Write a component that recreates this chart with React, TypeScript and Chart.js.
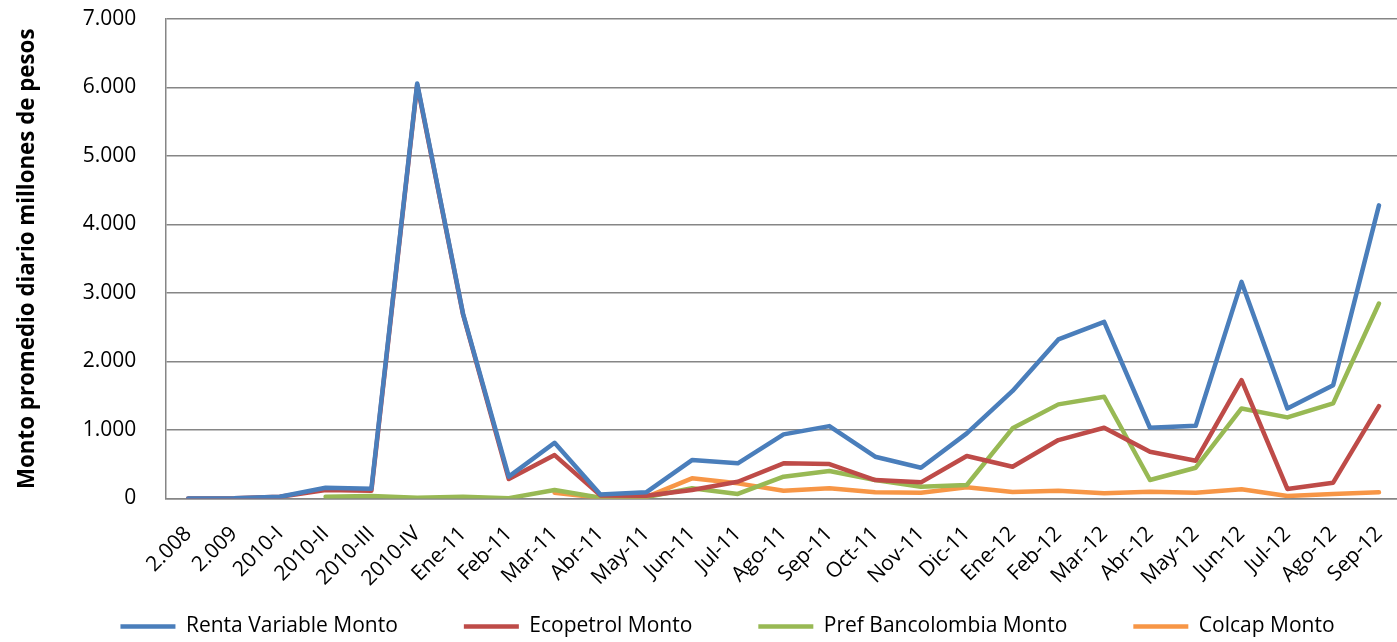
import React, { useEffect, useRef } from "react";
import { Chart, registerables } from "chart.js";

Chart.register(...registerables);

const categories = [
  "2.008", "2.009", "2010-I", "2010-II", "2010-III", "2010-IV",
  "Ene-11", "Feb-11", "Mar-11", "Abr-11", "May-11", "Jun-11", "Jul-11",
  "Ago-11", "Sep-11", "Oct-11", "Nov-11", "Dic-11", "Ene-12", "Feb-12",
  "Mar-12", "Abr-12", "May-12", "Jun-12", "Jul-12", "Ago-12", "Sep-12",
];

const rentaVariable = [
  0, 5, 25, 157, 143, 6060, 2700, 320, 814, 60, 90, 561, 513, 936, 1057,
  610, 449, 951, 1570, 2322, 2578, 1033, 1062, 3162, 1315, 1655, 4280,
];

const ecopetrol = [
  0, 5, 25, 124, 114, 6040, 2690, 284, 634, 45, 40, 124, 245, 513, 503,
  270, 236, 620, 464, 853, 1033, 683, 552, 1728, 139, 231, 1349,
];

const prefBancolombia = [
  null, null, null, 26, 36, 12, 25, 5, 124, 10, 20, 149, 66, 318, 401,
  270, 173, 197, 1024, 1374, 1485, 270, 449, 1315, 1184, 1388, 2847,
];

const colcap = [
  null, null, null, null, null, null, null, null, 85, 10, 20, 294, 221, 114, 149,
  90, 85, 163, 95, 114, 76, 99, 85, 134, 36, 66, 90,
];

const seriesNames = [
  "Renta Variable Monto",
  "Ecopetrol Monto",
  "Pref Bancolombia Monto",
  "Colcap Monto",
];
const seriesColors = ["#4A7EBB", "#BE4B48", "#98B954", "#F79646"];

const yTicks = [0, 1000, 2000, 3000, 4000, 5000, 6000, 7000];
const yTitle = "Monto promedio diario millones de pesos";

const FONT = "'Open Sans', 'DejaVu Sans', sans-serif";
const GRID = "#868686";

function fmt(v: number): string {
  if (v === 0) return "0";
  const s = String(Math.round(v));
  return s.replace(/\B(?=(\d{3})+(?!\d))/g, ".");
}

export default function App() {
  const ref = useRef<HTMLCanvasElement | null>(null);

  useEffect(() => {
    if (!ref.current) return;
    const values = [rentaVariable, ecopetrol, prefBancolombia, colcap];
    const chart = new Chart(ref.current, {
      type: "line",
      data: {
        labels: categories,
        datasets: values.map((d, i) => ({
          label: seriesNames[i],
          data: d,
          borderColor: seriesColors[i],
          backgroundColor: seriesColors[i],
          borderWidth: 4.5,
          pointRadius: 0,
          pointHoverRadius: 0,
          borderJoinStyle: "round" as const,
          borderCapStyle: "round" as const,
          tension: 0,
          spanGaps: false,
          fill: false,
        })),
      },
      options: {
        animation: false,
        responsive: true,
        maintainAspectRatio: false,
        layout: { padding: { left: 47.7, right: 12.7, top: 19, bottom: 0 } },
        plugins: {
          tooltip: { enabled: false },
          legend: {
            position: "bottom",
            align: "center",
            labels: {
              usePointStyle: true,
              pointStyle: "line",
              pointStyleWidth: 55,
              padding: 66,
              color: "#000",
              font: { family: FONT, size: 21 },
            },
          },
        },
        scales: {
          x: {
            type: "category",
            offset: true,
            grid: { display: false, drawTicks: false },
            border: { display: true, color: GRID, width: 1.5 },
            ticks: {
              autoSkip: false,
              maxRotation: 45,
              minRotation: 45,
              padding: 23,
              color: "#000",
              font: { family: FONT, size: 21 },
            },
            afterFit: (s: any) => {
              s.height = 51.5;
              // let the rotated labels run into the legend's empty top band
              s._computeLabelArea = () => undefined;
            },
          },
          y: {
            min: 0,
            max: 7000,
            afterBuildTicks: (s: any) => {
              s.ticks = yTicks.map((v) => ({ value: v }));
            },
            grid: { color: GRID, lineWidth: 1.5, drawTicks: false },
            border: { display: true, color: GRID, width: 1.5 },
            ticks: {
              padding: 29,
              color: "#000",
              font: { family: FONT, size: 21 },
              callback: (v: any) => fmt(Number(v)),
            },
            title: {
              display: true,
              text: yTitle,
              color: "#000",
              font: { family: FONT, size: 22.3, weight: "bold" },
              padding: { top: -33.4, bottom: 0 },
            },
            afterFit: (s: any) => {
              s.width = 117.6;
              s.paddingTop = 0;
              s.paddingBottom = 0;
            },
          },
        },
      },
    });
    return () => chart.destroy();
  }, []);

  return (
    <div
      style={{
        position: "fixed",
        left: 0,
        top: 0,
        width: 1397,
        height: 642,
        overflow: "hidden",
        background: "#fff",
      }}
    >
      <div style={{ position: "relative", width: 1420, height: 647 }}>
        <canvas ref={ref} />
      </div>
    </div>
  );
}
